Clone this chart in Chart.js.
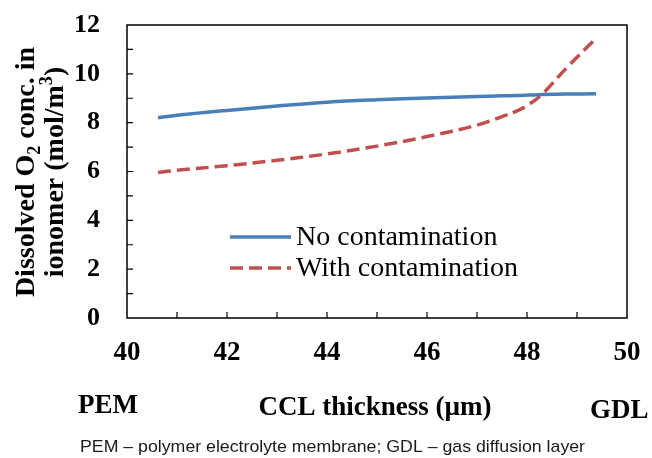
<!DOCTYPE html>
<html lang="en">

<head>
    <meta charset="UTF-8">
    <title>Dissolved O2 concentration in ionomer</title>
    <script src="https://cdn.jsdelivr.net/npm/chart.js"></script>
    <style>
        body {
            margin: 0;
            background: #ffffff;
        }

        #wrap {
            width: 652px;
            height: 458px;
        }
    </style>
</head>

<body>
    <div id="wrap"><canvas id="o2Chart" width="652" height="458"></canvas></div>

    <script>
        // datos
        const thickness = [40.62, 41, 42, 43, 44, 45, 46, 47, 47.5, 47.8, 48.05, 48.3, 48.8, 49.38];
        const noContamination = [8.20, 8.30, 8.50, 8.68, 8.84, 8.94, 9.01, 9.07, 9.10, 9.11, 9.13, 9.15, 9.17, 9.18];
        const withContamination = [5.96, 6.05, 6.24, 6.46, 6.72, 7.04, 7.43, 7.90, 8.25, 8.48, 8.76, 9.16, 10.26, 11.45];
        const xTicks = [40, 42, 44, 46, 48, 50];
        const yTicks = [0, 2, 4, 6, 8, 10, 12];

        const serif = "'Liberation Serif', 'Times New Roman', serif";

        // texto con sub/superindice, rotado o no
        function drawRich(ctx, parts, size) {
            let total = 0;
            parts.forEach(p => {
                ctx.font = "bold " + (p.small ? size * 0.65 : size) + "px " + serif;
                p.w = ctx.measureText(p.t).width;
                total += p.w;
            });
            let x = -total / 2;
            parts.forEach(p => {
                ctx.font = "bold " + (p.small ? size * 0.65 : size) + "px " + serif;
                ctx.fillText(p.t, x, p.dy || 0);
                x += p.w;
            });
        }

        const extras = {
            id: "extras",
            afterDraw(chart) {
                const ctx = chart.ctx;
                const a = chart.chartArea;
                const xs = chart.scales.x;
                const ys = chart.scales.y;
                ctx.save();

                // marco
                ctx.strokeStyle = "#000";
                ctx.lineWidth = 1.5;
                ctx.strokeRect(a.left, a.top, a.right - a.left, a.bottom - a.top);

                // marcas hacia adentro
                ctx.lineWidth = 1.2;
                ctx.beginPath();
                for (let v = 41; v < 50; v++) {
                    const px = xs.getPixelForValue(v);
                    ctx.moveTo(px, a.bottom);
                    ctx.lineTo(px, a.bottom - 6);
                }
                for (let v = 1; v < 12; v++) {
                    const py = ys.getPixelForValue(v);
                    ctx.moveTo(a.left, py);
                    ctx.lineTo(a.left + 6, py);
                }
                ctx.stroke();

                // leyenda dentro del area
                ctx.textBaseline = "middle";
                ctx.textAlign = "left";
                ctx.font = "28px " + serif;
                chart.data.datasets.forEach((ds, i) => {
                    const y = 237 + i * 31;
                    ctx.strokeStyle = ds.borderColor;
                    ctx.lineWidth = ds.borderWidth;
                    ctx.setLineDash(ds.borderDash || []);
                    ctx.beginPath();
                    ctx.moveTo(230, y);
                    ctx.lineTo(291, y);
                    ctx.stroke();
                    ctx.setLineDash([]);
                    ctx.fillStyle = "#000";
                    ctx.fillText(ds.label, 296, y + 1);
                });

                // titulo eje y (dos lineas)
                ctx.fillStyle = "#000";
                ctx.textAlign = "left";
                ctx.textBaseline = "alphabetic";
                ctx.save();
                ctx.translate(34, 172);
                ctx.rotate(-Math.PI / 2);
                drawRich(ctx, [{ t: "Dissolved O" }, { t: "2", small: true, dy: 6 }, { t: " conc. in" }], 28);
                ctx.restore();
                ctx.save();
                ctx.translate(63, 172);
                ctx.rotate(-Math.PI / 2);
                drawRich(ctx, [{ t: "ionomer (mol/m" }, { t: "3", small: true, dy: -11 }, { t: ")" }], 28);
                ctx.restore();

                // etiquetas inferiores
                ctx.textBaseline = "middle";
                ctx.font = "bold 27px " + serif;
                ctx.textAlign = "left";
                ctx.fillText("PEM", 78, 406);
                ctx.textAlign = "center";
                ctx.fillText("CCL thickness (\u00b5m)", 375, 408);
                ctx.textAlign = "left";
                ctx.fillText("GDL", 590, 411);

                // nota al pie
                const note = "PEM \u2013 polymer electrolyte membrane; GDL \u2013 gas diffusion layer";
                ctx.font = "17px 'Liberation Sans', Arial, sans-serif";
                ctx.fillStyle = "#1a1a1a";
                const w = ctx.measureText(note).width;
                ctx.save();
                ctx.translate(80, 447);
                ctx.scale(505 / w, 1);
                ctx.fillText(note, 0, 0);
                ctx.restore();

                ctx.restore();
            }
        };

        new Chart(document.getElementById("o2Chart"), {
            type: "line",
            data: {
                datasets: [{
                    label: "No contamination",
                    data: thickness.map((t, i) => ({ x: t, y: noContamination[i] })),
                    borderColor: "#4a7ebb",
                    borderWidth: 3.5,
                    pointRadius: 0,
                    tension: 0.4,
                    fill: false
                }, {
                    label: "With contamination",
                    data: thickness.map((t, i) => ({ x: t, y: withContamination[i] })),
                    borderColor: "#c0504d",
                    borderWidth: 3.5,
                    borderDash: [13, 6],
                    pointRadius: 0,
                    tension: 0.4,
                    fill: false
                }]
            },
            options: {
                responsive: false,
                animation: false,
                layout: {
                    padding: { top: 25, right: 25, left: 0, bottom: 0 }
                },
                plugins: {
                    legend: { display: false },
                    tooltip: { enabled: false }
                },
                scales: {
                    x: {
                        type: "linear",
                        min: 40,
                        max: 50,
                        afterBuildTicks: s => { s.ticks = xTicks.map(v => ({ value: v })); },
                        afterFit: s => {
                            s.height = 140;
                            s.paddingLeft = 0;
                            s.paddingRight = 0;
                        },
                        grid: { display: false, drawTicks: false },
                        border: { display: false },
                        ticks: {
                            autoSkip: false,
                            maxRotation: 0,
                            padding: 19,
                            color: "#000",
                            font: { family: serif, size: 27, weight: "bold" }
                        }
                    },
                    y: {
                        min: 0,
                        max: 12,
                        afterBuildTicks: s => { s.ticks = yTicks.map(v => ({ value: v })); },
                        afterFit: s => {
                            s.width = 127;
                            s.paddingTop = 0;
                            s.paddingBottom = 0;
                        },
                        grid: { display: false, drawTicks: false },
                        border: { display: false },
                        ticks: {
                            padding: 27,
                            color: "#000",
                            font: { family: serif, size: 26, weight: "bold" }
                        }
                    }
                }
            },
            plugins: [extras]
        });
    </script>
</body>

</html>
